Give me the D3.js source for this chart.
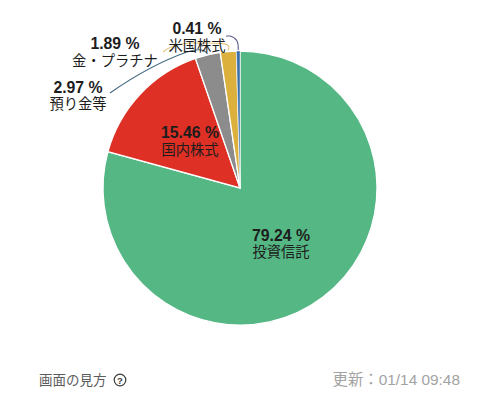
<!DOCTYPE html>
<html>
<head>
<meta charset="utf-8">
<script src="https://cdn.jsdelivr.net/npm/d3@7"></script>
<style>
  html, body { margin: 0; background: #fff; }
  svg { display: block; }
  text { font-family: "Liberation Sans", "Noto Sans CJK JP", sans-serif; }
</style>
</head>
<body>
<div id="chart"></div>
<script>
// Values, clockwise from 12 o'clock
const categories = ["投資信託", "国内株式", "預り金等", "金・プラチナ", "米国株式"];
const shares = [79.24, 15.46, 2.97, 1.89, 0.41];
const colours = ["#55b784", "#de3024", "#8c8c8c", "#dcb03c", "#3b6fa8"];
const leaderColours = [null, null, "#456a80", "#e3c47c", "#5d5f8f"];
const footerLeft = "画面の見方";
const footerRight = "更新：01/14 09:48";

const width = 480, height = 395;
const cx = 240, cy = 188, radius = 137;

const svg = d3.select("#chart").append("svg")
    .attr("width", width)
    .attr("height", height);

const g = svg.append("g").attr("transform", `translate(${cx},${cy})`);

const pie = d3.pie().sort(null).value(d => d);
const arc = d3.arc().innerRadius(0).outerRadius(radius);
const slices = pie(shares);

g.selectAll("path.slice")
    .data(slices)
    .enter()
    .append("path")
    .attr("class", "slice")
    .attr("d", arc)
    .attr("fill", (d, i) => colours[i])
    .attr("stroke", "#fff")
    .attr("stroke-width", d => d.index === 4 ? 0.4 : 1.3);

// Leader lines for the three thin slices, drawn in page coordinates
const leaders = [
    { index: 2, c1: [204, 48], c2: [196, 49], mid: [187, 52], ctrl: [150, 65], end: [110, 93] },
    { index: 3, c1: [232, 42], c2: [222, 43], mid: [190, 43], ctrl: [172, 44], end: [163, 52] },
    { index: 4, c1: [239, 40], c2: [235, 37], mid: [230, 36], ctrl: [228, 36], end: [226, 36] }
];

leaders.forEach(l => {
    const a = (slices[l.index].startAngle + slices[l.index].endAngle) / 2;
    const sx = cx + Math.sin(a) * (radius + 1);
    const sy = cy - Math.cos(a) * (radius + 1);
    const p = d3.path();
    p.moveTo(sx, sy);
    p.bezierCurveTo(l.c1[0], l.c1[1], l.c2[0], l.c2[1], l.mid[0], l.mid[1]);
    p.quadraticCurveTo(l.ctrl[0], l.ctrl[1], l.end[0], l.end[1]);
    svg.append("path")
        .attr("d", p.toString())
        .attr("fill", "none")
        .attr("stroke", leaderColours[l.index])
        .attr("stroke-width", 1.1);
});

// Slice labels: percentage above, name below
const labelSpots = [
    { x: 281, y: 240.5, gap: 16.5 },
    { x: 190, y: 138, gap: 16.5 },
    { x: 78, y: 93, gap: 16 },
    { x: 115, y: 49, gap: 16.5 },
    { x: 197, y: 34, gap: 17 }
];

const fmt = d => d.toFixed(2) + " %";

categories.forEach((name, i) => {
    const spot = labelSpots[i];
    svg.append("text")
        .attr("x", spot.x)
        .attr("y", spot.y)
        .attr("text-anchor", "middle")
        .attr("font-size", 15.8)
        .attr("font-weight", 700)
        .attr("fill", "#1d1d1d")
        .text(fmt(shares[i]));
    svg.append("text")
        .attr("x", spot.x)
        .attr("y", spot.y + spot.gap)
        .attr("text-anchor", "middle")
        .attr("font-size", 14.3)
        .attr("fill", "#1d1d1d")
        .text(name);
});

// Footer
svg.append("text")
    .attr("x", 39)
    .attr("y", 385)
    .attr("font-size", 13.5)
    .attr("fill", "#5c5c5c")
    .text(footerLeft);

svg.append("circle")
    .attr("cx", 120)
    .attr("cy", 380)
    .attr("r", 5.8)
    .attr("fill", "none")
    .attr("stroke", "#3c3c3c")
    .attr("stroke-width", 1.2);

svg.append("text")
    .attr("x", 120)
    .attr("y", 383.5)
    .attr("text-anchor", "middle")
    .attr("font-size", 9.5)
    .attr("font-weight", 700)
    .attr("fill", "#3c3c3c")
    .text("?");

svg.append("text")
    .attr("x", 460)
    .attr("y", 385)
    .attr("text-anchor", "end")
    .attr("font-size", 15.4)
    .attr("fill", "#a3a3a3")
    .text(footerRight);
</script>
</body>
</html>
